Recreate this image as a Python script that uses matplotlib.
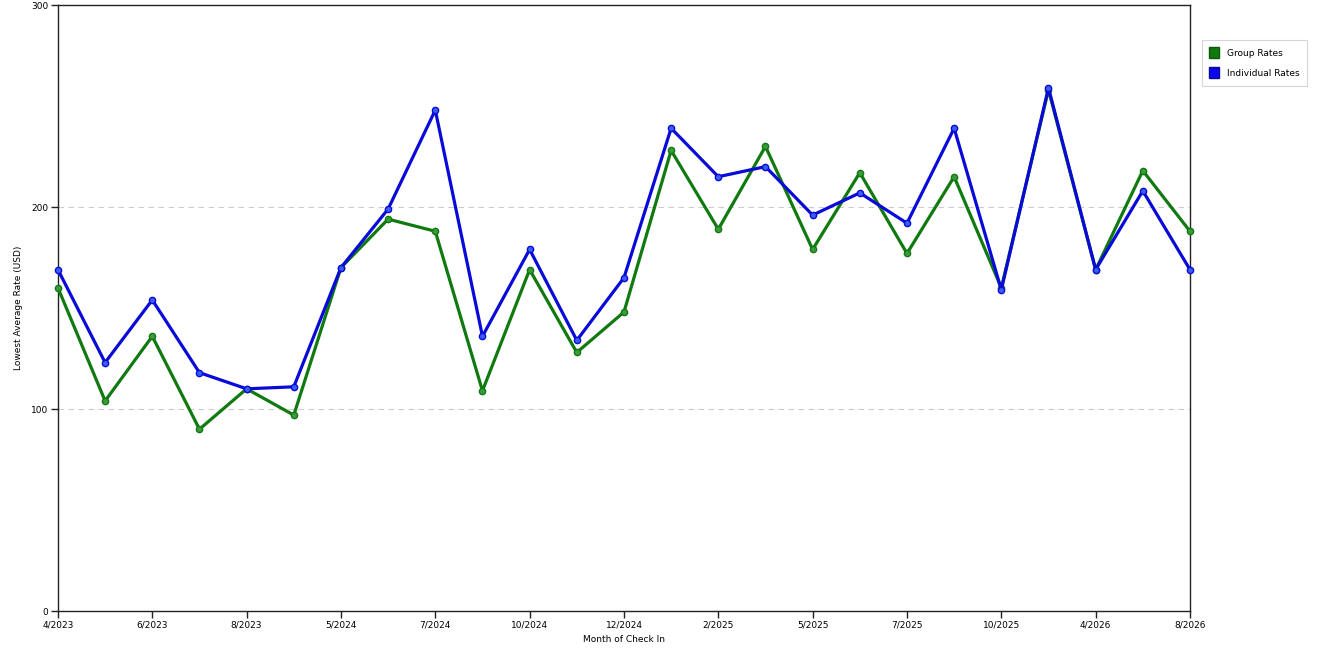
import matplotlib
matplotlib.use("Agg")
import matplotlib.pyplot as plt
from matplotlib.patches import Patch

# Month labels (every second point has a tick label)
months = ["4/2023", "5/2023", "6/2023", "7/2023", "8/2023", "9/2023",
          "5/2024", "6/2024", "7/2024", "8/2024", "10/2024", "11/2024",
          "12/2024", "1/2025", "2/2025", "3/2025", "5/2025", "6/2025",
          "7/2025", "8/2025", "10/2025", "11/2025", "4/2026", "5/2026", "8/2026"]

group_rates = [160, 104, 136, 90, 110, 97, 170, 194, 188, 109, 169, 128, 148,
               228, 189, 230, 179, 217, 177, 215, 160, 258, 169, 218, 188]
individual_rates = [169, 123, 154, 118, 110, 111, 170, 199, 248, 136, 179, 134, 165,
                    239, 215, 220, 196, 207, 192, 239, 159, 259, 169, 208, 169]

x = list(range(len(months)))

fig = plt.figure(figsize=(13.2, 6.6), dpi=100)
ax = fig.add_axes([0.0439, 0.0742, 0.8576, 0.9182])

ax.plot(x, group_rates, color="#107a10", lw=2.3, marker="o", ms=4.5,
        mfc="#3c9a3c", mec="#107a10", zorder=3, clip_on=False)
ax.plot(x, individual_rates, color="#0a0ad8", lw=2.3, marker="o", ms=4.5,
        mfc="#3a5ef0", mec="#0a0ad8", zorder=4, clip_on=False)

ax.set_xlim(0, len(months) - 1)
ax.set_ylim(0, 300)
ax.set_yticks([0, 100, 200, 300])
ax.set_xticks(x[::2])
ax.set_xticklabels(months[::2])
ax.tick_params(labelsize=6.5, length=5, width=1, color="#222222", pad=2)

for y in [100, 200]:
    ax.axhline(y, color="#cccccc", lw=0.8, ls=(0, (5, 4)), zorder=1)

for s in ax.spines.values():
    s.set_color("#222222")
    s.set_linewidth(1)

ax.set_xlabel("Month of Check In", fontsize=6.5, labelpad=4)
ax.set_ylabel("Lowest Average Rate (USD)", fontsize=6.5, labelpad=6)

handles = [Patch(facecolor="#107a10", edgecolor="#0a5a0a", label="Group Rates"),
           Patch(facecolor="#0a0af0", edgecolor="#0a0a90", label="Individual Rates")]
leg = fig.legend(handles=handles, loc="upper left", bbox_to_anchor=(0.907, 0.946),
                 fontsize=6.5, frameon=True, fancybox=False, handlelength=1.1,
                 handleheight=1.5, handletextpad=0.9, borderpad=0.8, labelspacing=1.0)
leg.get_frame().set_edgecolor("#cccccc")
leg.get_frame().set_linewidth(0.8)

fig.savefig("out.png", dpi=100)
